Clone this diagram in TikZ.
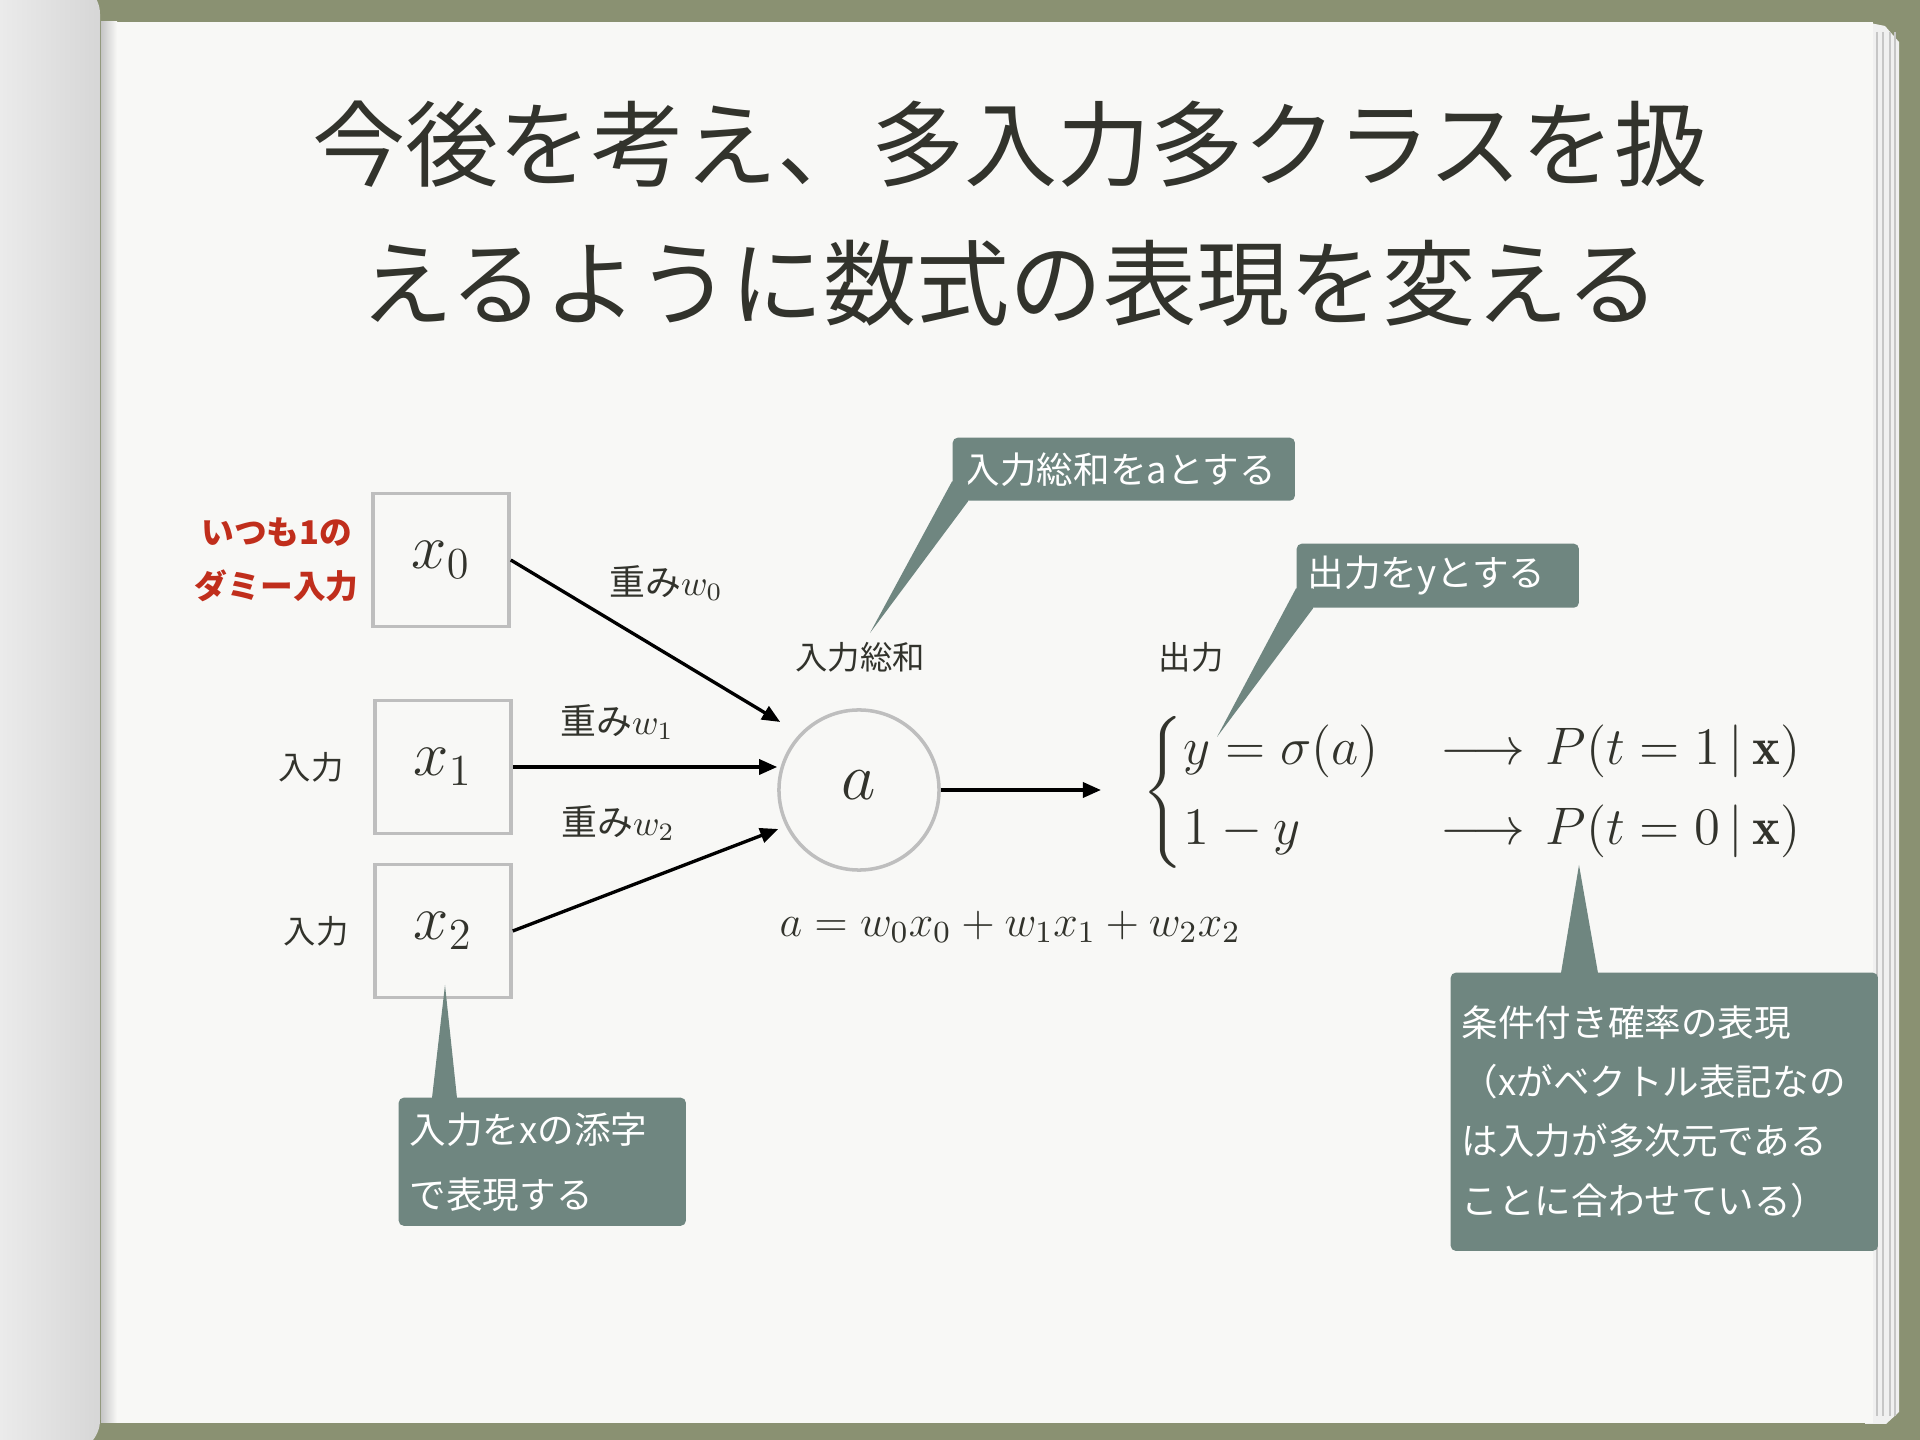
\RequirePackage{fix-cm}
\documentclass[tikz,border=0pt]{standalone}
\usepackage{amsmath}
\usepackage{fontspec}
\newfontfamily\jp{Noto Sans CJK JP}
\usepackage{tikz}
\usetikzlibrary{arrows.meta,calc,positioning}

\definecolor{cloth}{RGB}{138,145,114}
\definecolor{paper}{RGB}{248,248,246}
\definecolor{ink}{RGB}{50,51,44}
\definecolor{callgreen}{RGB}{111,134,128}
\definecolor{dummyred}{RGB}{192,46,28}
\definecolor{boxgray}{RGB}{190,190,190}

\tikzset{
    inbox/.style={draw=boxgray, line width=1pt, minimum width=13.6mm, minimum height=13.3mm,
        inner sep=0pt, text=ink, font=\fontsize{18}{20}\selectfont},
    sumnode/.style={circle, draw=boxgray, line width=1pt, minimum size=16mm, inner sep=0pt,
        text=ink, font=\fontsize{19}{20}\selectfont},
    wire/.style={line width=0.95pt, -{Triangle[length=1.8mm,width=1.5mm]}},
    lbl/.style={inner sep=0pt, text=ink, font=\jp\fontsize{9.2}{11}\selectfont},
    wlbl/.style={inner sep=0pt, text=ink, font=\fontsize{10.2}{12}\selectfont},
    callbox/.style={fill=callgreen, rounded corners=0.5mm, text=white, align=left,
        anchor=north west, inner xsep=1.1mm, inner ysep=0pt},
}

\begin{document}
\begin{tikzpicture}[x=0.01cm, y=-0.01cm, >=stealth]
    \useasboundingbox (0,0) rectangle (1920,1440);

    % --- book: cloth, page stack, pages ---
    \fill[cloth] (0,0) rectangle (1920,1440);
    \fill[gray!12] (1865,22) -- (1885,26) -- (1899,42) -- (1899,1412) -- (1886,1424) -- (1865,1424) -- cycle;
    \foreach \x in {1877,1883,1890,1895}
        \draw[gray!45, line width=0.4pt] (\x,32) -- (\x,1416);
    \fill[paper] (101,22) rectangle (1873,1423);
    \shade[left color=gray!45, right color=paper] (101,22) rectangle (117,1423);
    \shade[left color=gray!6, middle color=white, right color=gray!32, rounded corners=3.2mm]
        (-60,-18) rectangle (100,1452);

    % --- title ---
    \node[text=ink, align=center, font=\jp\fontsize{26.5}{39.5}\selectfont] (title) at (1010,214)
        {今後を考え、多入力多クラスを扱\\えるように数式の表現を変える};

    % --- LEFT: inputs ---
    \node[inbox] (x0) at (441,560) {$x_0$};
    \node[inbox] (x1) at (443,767) {$x_1$};
    \node[inbox] (x2) at (443,931) {$x_2$};

    \node[inner sep=0pt, left=1.2mm of x0, align=center, text=dummyred,
        font=\jp\bfseries\fontsize{9.3}{15.4}\selectfont] (dummy) {いつも1の\\ダミー入力};
    \node[lbl, left=2.9mm of x1] (inlbl1) {入力};
    \node[lbl, left=2.4mm of x2] (inlbl2) {入力};

    % --- MIDDLE: weights and sum ---
    \node[sumnode] (a) at (859,790) {\raisebox{1mm}{$a$}};
    \coordinate (end0) at ($(a.west)+(3,-68)$);
    \coordinate (end2) at ($(a.west)+(1,39)$);

    \draw[wire] (x0.east) -- (end0);
    \draw[wire] (x1.east) -- (x1.east -| a.west);
    \draw[wire] (x2.east) -- (end2);

    \node[wlbl] (w0) at (666,583) {{\jp 重み}$w_0$};
    \node[wlbl] (w1) at (617,722) {{\jp 重み}$w_1$};
    \node[wlbl] (w2) at (618,823) {{\jp 重み}$w_2$};

    \node[lbl] (sumlbl) at (860,657) {入力総和};
    \node[lbl] (outlbl) at (1191,657) {出力};
    \node[inner sep=0pt, text=ink, font=\fontsize{12.5}{15}\selectfont] (sum) at (1010,927)
        {$a=w_0x_0+w_1x_1+w_2x_2$};

    % --- RIGHT: output ---
    \node[anchor=west, inner sep=0pt, text=ink, font=\fontsize{15}{18}\selectfont] (cases) at (1142,792)
        {$\left\{\begin{array}{@{}l@{\hspace{6.2mm}}l@{\hspace{2mm}}l@{}}
            y=\sigma(a) & \longrightarrow & P(t=1\,|\,\mathbf{x})\\[4.8pt]
            1-y & \longrightarrow & P(t=0\,|\,\mathbf{x})
        \end{array}\right.$};
    \draw[wire, shorten >=4.1mm] (a.east) -- (a.east -| cases.west);

    % --- callouts ---
    \node[callbox, text width=32mm, minimum height=6.3mm, font=\jp\fontsize{10.4}{12}\selectfont]
        (boxA) at (952,437) {入力総和をaとする};
    \coordinate (tipA) at (870,633);
    \fill[callgreen] ($(boxA.south west)+(0,-20)$) -- (tipA) -- ($(boxA.south west)+(16,0)$)
        -- ($(boxA.south west)+(16,-20)$) -- cycle;

    \node[callbox, text width=26mm, minimum height=6.4mm, font=\jp\fontsize{10.4}{12}\selectfont]
        (boxB) at (1296,543) {出力をyとする};
    \coordinate (tipB) at (1217,737);
    \fill[callgreen] ($(boxB.south west)+(0,-20)$) -- (tipB) -- ($(boxB.south west)+(17,0)$)
        -- ($(boxB.south west)+(17,-20)$) -- cycle;

    \node[callbox, text width=26.5mm, minimum height=12.8mm, font=\jp\fontsize{10.4}{18.5}\selectfont]
        (boxC) at (398,1097) {入力をxの添字\\で表現する};
    \coordinate (tipC) at (445,985);
    \fill[callgreen] ($(boxC.north west)+(34,1)$) -- (tipC) -- ($(boxC.north west)+(59,1)$) -- cycle;

    \node[callbox, text width=40.5mm, minimum height=27.8mm, font=\jp\fontsize{10.4}{16.8}\selectfont]
        (boxD) at (1450,972) {条件付き確率の表現\\（xがベクトル表記なの\\は入力が多次元である\\ことに合わせている）};
    \coordinate (tipD) at (1579,865);
    \fill[callgreen] ($(boxD.north west)+(111,1)$) -- (tipD) -- ($(boxD.north west)+(148,1)$) -- cycle;

\end{tikzpicture}
\end{document}
